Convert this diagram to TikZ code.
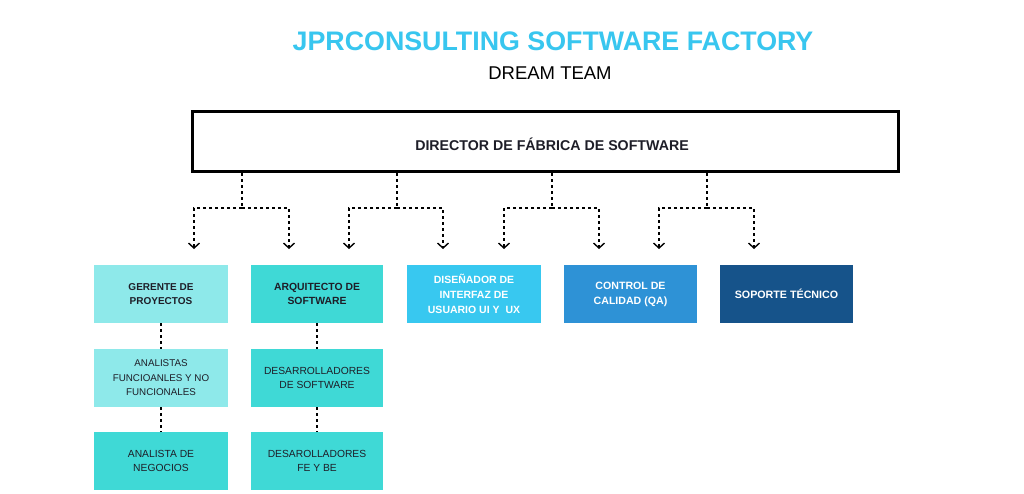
\documentclass[tikz,border=0pt]{standalone}
\usepackage{fontspec}
\setmainfont{Liberation Sans}
\usetikzlibrary{arrows.meta}
\definecolor{titleblue}{HTML}{38C6EF}
\definecolor{lightcyan}{HTML}{8EE9EA}
\definecolor{turq}{HTML}{3FD9D6}
\definecolor{skyb}{HTML}{38C8F0}
\definecolor{midb}{HTML}{2E92D6}
\definecolor{darkb}{HTML}{16538A}
\definecolor{txtdark}{HTML}{1E1E28}
\tikzset{
  rolebox/.style={rectangle, inner sep=0pt, minimum width=133pt, minimum height=58pt,
    align=center, font=\fontsize{10.3}{14.5}\selectfont, text=txtdark},
  dotline/.style={line width=2.2pt, dash pattern=on 3pt off 3pt, draw=black},
  chev/.style={-{Straight Barb[length=5pt,width=11pt,line width=1.4pt]}},
}
\begin{document}
\begin{tikzpicture}[x=1pt,y=-1pt]
\useasboundingbox (0,0) rectangle (1024,493);
\fill[white] (0,0) rectangle (1024,493);

\node[font=\bfseries\fontsize{26.8}{30}\selectfont, text=titleblue] (title) at (553,41) {JPRCONSULTING SOFTWARE FACTORY};
\node[font=\fontsize{18.5}{21}\selectfont, text=black] (sub) at (550,73) {DREAM TEAM};

\node[draw=black, line width=3pt, minimum width=706pt, minimum height=60pt, inner sep=0pt] (dir) at (545.5,141.5) {};
\node[font=\bfseries\fontsize{14.2}{16}\selectfont, text=txtdark] (dirtext) at (552,144) {DIRECTOR DE FÁBRICA DE SOFTWARE};

% junctions and arrow ends
\coordinate (j1) at (242,208);
\coordinate (j2) at (397,208);
\coordinate (j3) at (552,208);
\coordinate (j4) at (707,208);
\coordinate (a1) at (194,249);
\coordinate (a2) at (289,249);
\coordinate (a3) at (349,249);
\coordinate (a4) at (443,249);
\coordinate (a5) at (504,249);
\coordinate (a6) at (599,249);
\coordinate (a7) at (659,249);
\coordinate (a8) at (754,249);

\foreach \j/\l/\r in {j1/a1/a2, j2/a3/a4, j3/a5/a6, j4/a7/a8}{
  \draw[dotline] (\j |- dir.south) -- (\j);
  \draw[dotline, chev] (\j) -| (\l);
  \draw[dotline, chev] (\j) -| (\r);
}

% boxes
\node[rolebox, fill=lightcyan, minimum width=134pt, font=\bfseries\fontsize{10}{14}\selectfont] (ger) at (161,294) {GERENTE DE\\PROYECTOS};
\node[rolebox, fill=turq, minimum width=132pt, font=\bfseries\fontsize{10.4}{14.5}\selectfont] (arq) at (317,294) {ARQUITECTO DE\\SOFTWARE};
\node[rolebox, fill=skyb, minimum width=134pt, text=white, font=\bfseries\fontsize{10.5}{15}\selectfont] (dis) at (474,294) {DISEÑADOR DE\\INTERFAZ DE\\USUARIO UI Y~ UX};
\node[rolebox, fill=midb, text=white, font=\bfseries\fontsize{10.6}{15}\selectfont] (qa) at (630.5,294) {CONTROL DE\\CALIDAD (QA)};
\node[rolebox, fill=darkb, text=white, font=\bfseries\fontsize{10.7}{15}\selectfont] (sop) at (786.5,294) {SOPORTE TÉCNICO};

\node[rolebox, fill=lightcyan, minimum width=134pt, font=\fontsize{9.8}{14.5}\selectfont] (anal) at (161,378) {ANALISTAS\\FUNCIOANLES Y NO\\FUNCIONALES};
\node[rolebox, fill=turq, minimum width=134pt] (neg) at (161,461) {ANALISTA DE\\NEGOCIOS};
\node[rolebox, fill=turq, minimum width=132pt] (dev) at (317,378) {DESARROLLADORES\\DE SOFTWARE};
\node[rolebox, fill=turq, minimum width=132pt] (fe) at (317,461) {DESAROLLADORES\\FE Y BE};

\draw[dotline] (ger.south) -- (anal.north);
\draw[dotline] (anal.south) -- (neg.north);
\draw[dotline] (arq.south) -- (dev.north);
\draw[dotline] (dev.south) -- (fe.north);
\end{tikzpicture}
\end{document}
